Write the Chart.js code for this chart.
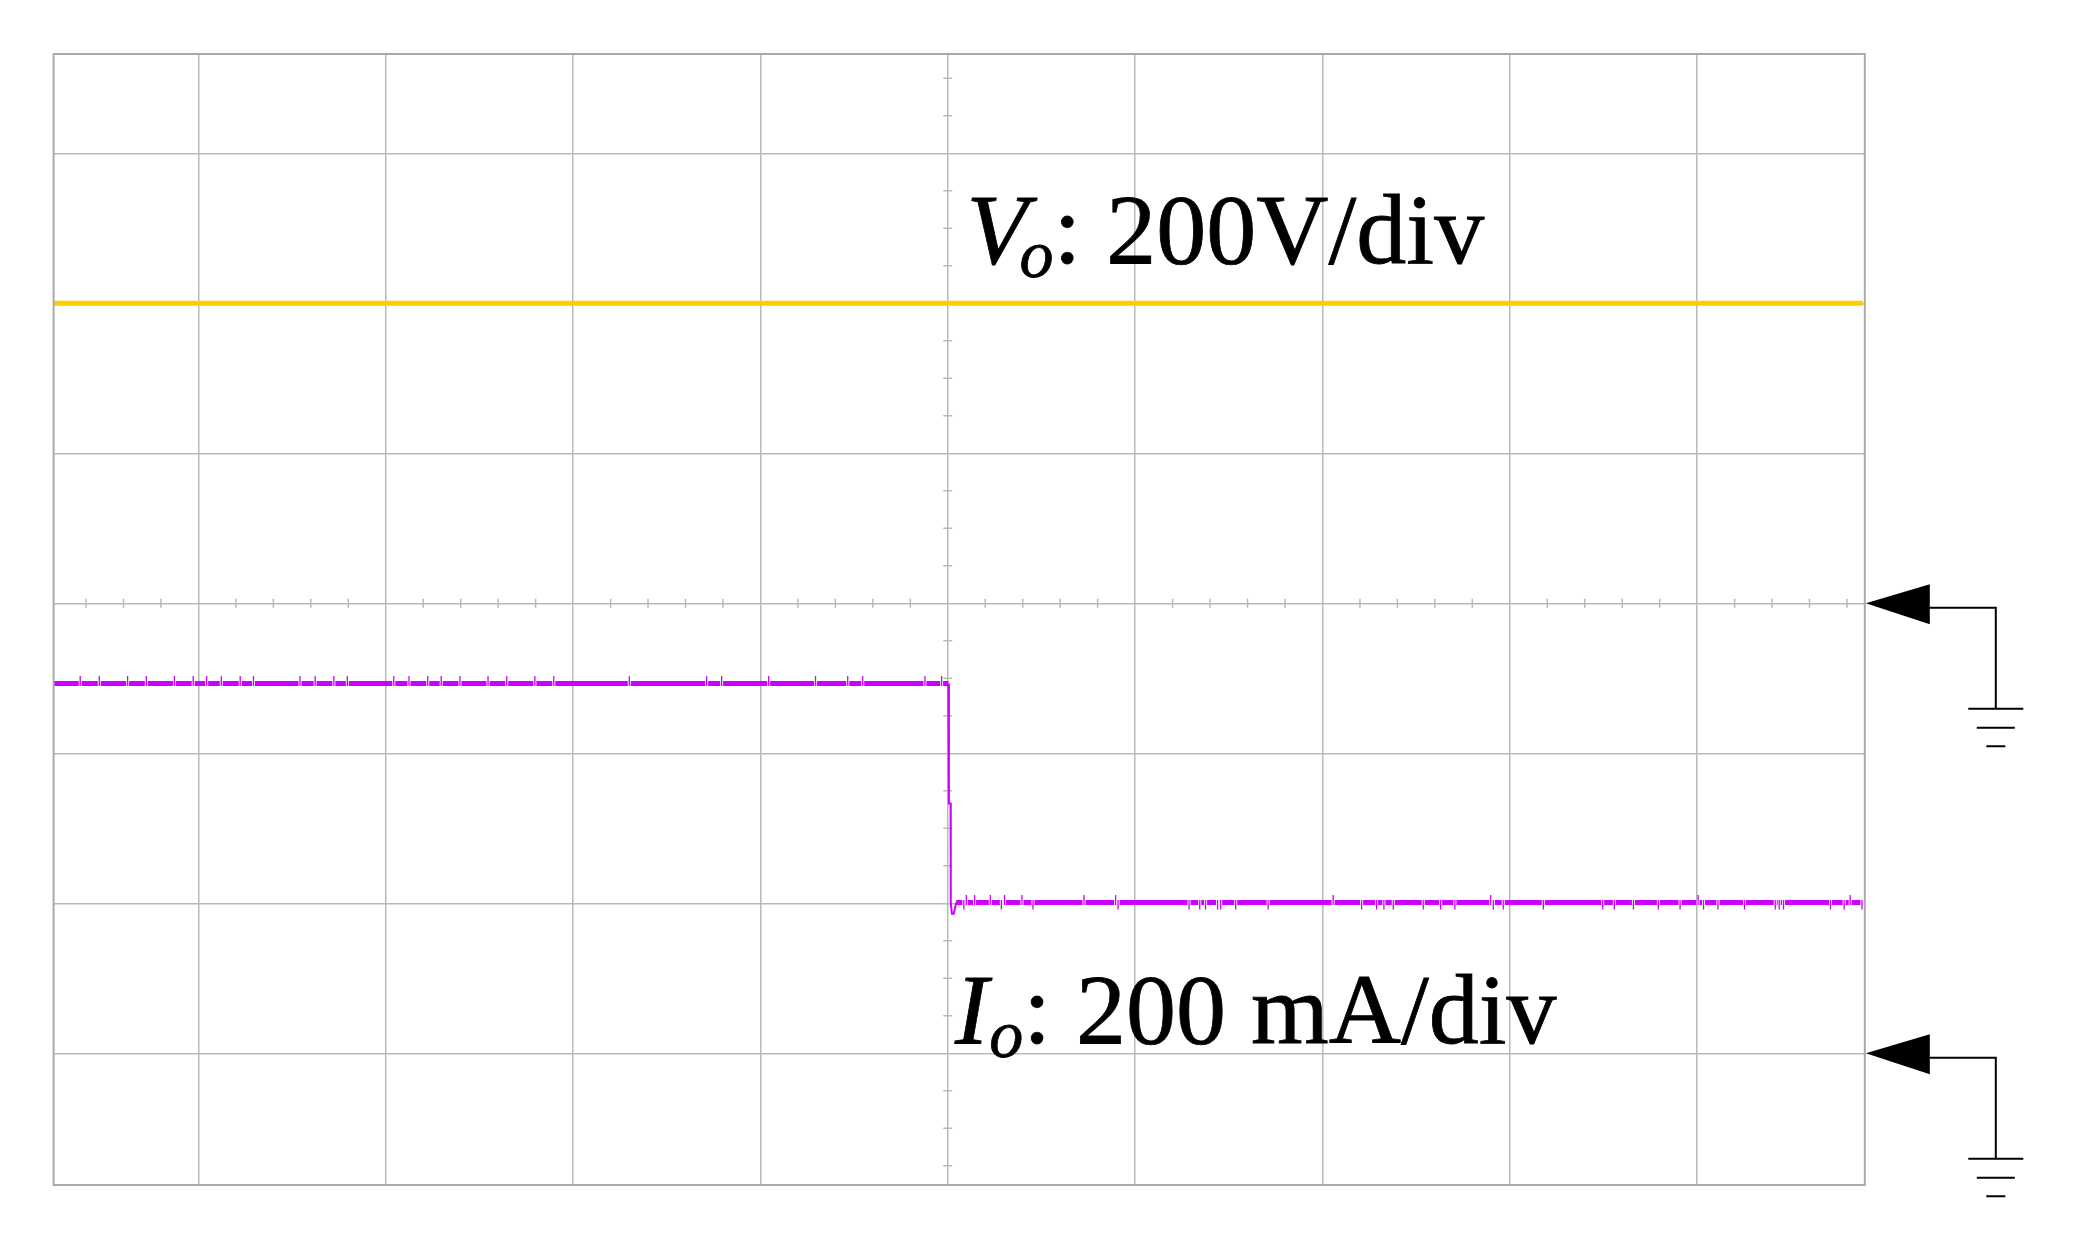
<!DOCTYPE html>
<html>
<head>
<meta charset="utf-8">
<title>Vo / Io step response</title>
<script src="https://cdn.jsdelivr.net/npm/chart.js@4.4.1/dist/chart.umd.min.js"></script>
<style>
  html, body { margin: 0; padding: 0; background: #fff; }
  #wrap { width: 2097px; height: 1236px; }
</style>
</head>
<body>
<div id="wrap"><canvas id="scopeChart" width="2097" height="1236"></canvas></div>
<script>
// scope screen, in divisions (what is visible of the graticule)
const X_MIN = -4.773, X_MAX = 4.895;
const Y_MIN = -3.878, Y_MAX = 3.662;
const gridDivX = [-4, -3, -2, -1, 0, 1, 2, 3, 4];
const gridDivY = [-3, -2, -1, 0, 1, 2, 3];

// channel settings
const VO_PER_DIV = 200;   // V/div
const IO_PER_DIV = 200;   // mA/div
const VO_GROUND_DIV = 0;
const IO_GROUND_DIV = -3;

// Vo trace (x in div, V)
const voTime = [-4.773, 4.884];
const voVolts = [400, 400];

// Io trace (x in div, mA)
const ioTime = [-4.773, 0.003, 0.006, 0.015, 0.016, 0.022, 0.032, 0.045, 4.880];
const ioMilliamps = [493, 493, 333, 333, 201, 186, 186, 201, 201];

// noise spikes on the Io trace
const IO_HIGH = 493, IO_LOW = 201;
const ioSpikesHighUp = [-4.631, -4.529, -4.378, -4.278, -4.128, -4.028, -3.956, -3.878, -3.777, -3.706,
  -3.458, -3.377, -3.277, -3.205, -2.957, -2.876, -2.776, -2.704, -2.604, -2.454, -2.354, -2.204,
  -2.103, -1.700, -1.287, -1.207, -0.956, -0.706, -0.534, -0.454, -0.122, -0.033];
const ioSpikesLowDown = [0.086, 0.286, 0.455, 0.909, 1.288, 1.345, 1.376, 1.440, 1.457, 1.537, 1.710,
  2.209, 2.289, 2.328, 2.378, 2.538, 2.631, 2.707, 2.912, 2.965, 3.179, 3.496, 3.558, 3.660, 3.793,
  3.909, 4.034, 4.111, 4.253, 4.417, 4.438, 4.461, 4.712, 4.785, 4.880];
const ioSpikesLowUp = [0.099, 0.143, 0.227, 0.303, 0.396, 0.727, 0.896, 2.057, 2.898, 4.005, 4.817];
const SPIKE_MA = 10;       // spike height
const TRACE_HALF_MA = 3.3; // half the trace thickness

const YELLOW = '#ffcc00';
const PURPLE = '#cc00ff';
const GRID = '#b9b9b9';
const FRAME = '#a9a9a9';
const FONT = '"Liberation Serif", "Times New Roman", serif';

function toPoints(xs, ys) {
  return xs.map((x, i) => ({ x, y: ys[i] }));
}

// vertical segments separated by gaps
function spikeSegments(list, level, from, to) {
  const pts = [];
  list.forEach(x => {
    pts.push({ x, y: level + from }, { x, y: level + to }, { x, y: null });
  });
  return pts;
}

const whiteGaps = spikeSegments(ioSpikesHighUp, IO_HIGH, -TRACE_HALF_MA, TRACE_HALF_MA)
  .concat(spikeSegments(ioSpikesLowDown.concat(ioSpikesLowUp), IO_LOW, -TRACE_HALF_MA, TRACE_HALF_MA));
const purpleSpikes = spikeSegments(ioSpikesHighUp, IO_HIGH, -TRACE_HALF_MA, SPIKE_MA)
  .concat(spikeSegments(ioSpikesLowUp, IO_LOW, -TRACE_HALF_MA, SPIKE_MA))
  .concat(spikeSegments(ioSpikesLowDown, IO_LOW, TRACE_HALF_MA, -SPIKE_MA + 0.7));

function setTicks(values) {
  return scale => { scale.ticks = values.map(v => ({ value: v })); };
}

// minor ticks on the centre axes, frame, channel labels, ground markers
const scopeOverlay = {
  id: 'scopeOverlay',
  beforeDatasetsDraw(chart) {
    const { ctx, scales: { x, grid } } = chart;
    const cx = x.getPixelForValue(0), cy = grid.getPixelForValue(0);
    ctx.save();
    ctx.strokeStyle = GRID;
    ctx.lineWidth = 1.5;
    ctx.beginPath();
    for (let v = -24; v <= 24; v++) {
      if (v % 5 === 0) continue;
      const px = x.getPixelForValue(v / 5);
      if (px < chart.chartArea.left + 2 || px > chart.chartArea.right - 2) continue;
      ctx.moveTo(px, cy - 4.5); ctx.lineTo(px, cy + 4.5);
    }
    for (let v = -16; v <= 15; v++) {
      if (v % 4 === 0) continue;
      const py = grid.getPixelForValue(v / 4);
      if (py < chart.chartArea.top + 2 || py > chart.chartArea.bottom - 2) continue;
      ctx.moveTo(cx - 4.5, py); ctx.lineTo(cx + 4.5, py);
    }
    ctx.stroke();
    ctx.restore();
  },
  afterDatasetsDraw(chart) {
    const { ctx, chartArea: a } = chart;
    ctx.save();
    ctx.strokeStyle = FRAME;
    ctx.lineWidth = 2;
    ctx.strokeRect(a.left, a.top, a.right - a.left, a.bottom - a.top);
    ctx.restore();
  },
  afterDraw(chart) {
    const { ctx, chartArea: a, scales: { x, grid, yV, yI } } = chart;
    drawLabel(ctx, x.getPixelForValue(0.100), grid.getPixelForValue(2.267), 'V', 'o', ': 200V/div', -8);
    drawLabel(ctx, x.getPixelForValue(0.038), grid.getPixelForValue(-2.933), 'I', 'o', ': 200 mA/div', 1);
    drawGround(ctx, a.right + 1, yV.getPixelForValue(0));
    drawGround(ctx, a.right + 1, yI.getPixelForValue(0));
  }
};

function drawLabel(ctx, x0, base, main, sub, rest, kern) {
  ctx.save();
  ctx.fillStyle = '#000';
  ctx.strokeStyle = '#000';
  ctx.lineWidth = 0.8;
  ctx.textBaseline = 'alphabetic';
  ctx.font = 'italic 100px ' + FONT;
  ctx.fillText(main, x0, base);
  ctx.strokeText(main, x0, base);
  let cx = x0 + ctx.measureText(main).width + kern;
  ctx.font = 'italic 68px ' + FONT;
  ctx.fillText(sub, cx, base + 14);
  ctx.strokeText(sub, cx, base + 14);
  cx += ctx.measureText(sub).width;
  ctx.font = '100px ' + FONT;
  ctx.fillText(rest, cx, base);
  ctx.strokeText(rest, cx, base);
  ctx.restore();
}

function drawGround(ctx, tipX, tipY) {
  ctx.save();
  ctx.fillStyle = '#000';
  ctx.strokeStyle = '#000';
  ctx.lineWidth = 2;
  ctx.beginPath();
  ctx.moveTo(tipX, tipY);
  ctx.lineTo(tipX + 64, tipY - 19);
  ctx.lineTo(tipX + 64, tipY + 21);
  ctx.closePath();
  ctx.fill();
  const stemX = tipX + 130;
  ctx.beginPath();
  ctx.moveTo(tipX + 64, tipY + 4.5);
  ctx.lineTo(stemX, tipY + 4.5);
  ctx.lineTo(stemX, tipY + 105);
  ctx.moveTo(stemX - 27.5, tipY + 105.5); ctx.lineTo(stemX + 27.5, tipY + 105.5);
  ctx.moveTo(stemX - 19, tipY + 124.5); ctx.lineTo(stemX + 19, tipY + 124.5);
  ctx.moveTo(stemX - 9.5, tipY + 143); ctx.lineTo(stemX + 9.5, tipY + 143);
  ctx.stroke();
  ctx.restore();
}

new Chart(document.getElementById('scopeChart'), {
  type: 'line',
  data: {
    datasets: [
      { label: 'Vo', data: toPoints(voTime, voVolts), yAxisID: 'yV', borderColor: YELLOW,
        borderWidth: 5, pointRadius: 0, order: 0 },
      { label: 'Io spikes', data: purpleSpikes, yAxisID: 'yI', borderColor: PURPLE,
        borderWidth: 1.3, pointRadius: 0, spanGaps: false, order: 1 },
      { label: 'Io gaps', data: whiteGaps, yAxisID: 'yI', borderColor: '#ffffff',
        borderWidth: 3, pointRadius: 0, spanGaps: false, order: 2 },
      { label: 'Io', data: toPoints(ioTime, ioMilliamps), yAxisID: 'yI', borderColor: PURPLE,
        borderWidth: 5, pointRadius: 0, order: 3,
        // the fast edge is drawn thin, as on the scope
        segment: { borderWidth: c => Math.abs(c.p1.parsed.x - c.p0.parsed.x) < 0.03 ? 2 : 5 } }
    ]
  },
  options: {
    responsive: false,
    animation: false,
    devicePixelRatio: 1,
    layout: { padding: { left: 53.6, top: 54, right: 232.2, bottom: 51 } },
    plugins: { legend: { display: false }, tooltip: { enabled: false } },
    elements: { line: { tension: 0 } },
    scales: {
      x: {
        type: 'linear', min: X_MIN, max: X_MAX,
        afterBuildTicks: setTicks(gridDivX),
        ticks: { display: false },
        grid: { color: GRID, lineWidth: 1.5, drawTicks: false },
        border: { display: false }
      },
      grid: {
        type: 'linear', position: 'left', min: Y_MIN, max: Y_MAX,
        afterBuildTicks: setTicks(gridDivY),
        ticks: { display: false },
        grid: { color: GRID, lineWidth: 1.5, drawTicks: false },
        border: { display: false }
      },
      yV: {
        type: 'linear', display: false,
        min: (Y_MIN - VO_GROUND_DIV) * VO_PER_DIV, max: (Y_MAX - VO_GROUND_DIV) * VO_PER_DIV
      },
      yI: {
        type: 'linear', display: false,
        min: (Y_MIN - IO_GROUND_DIV) * IO_PER_DIV, max: (Y_MAX - IO_GROUND_DIV) * IO_PER_DIV
      }
    }
  },
  plugins: [scopeOverlay]
});
</script>
</body>
</html>
